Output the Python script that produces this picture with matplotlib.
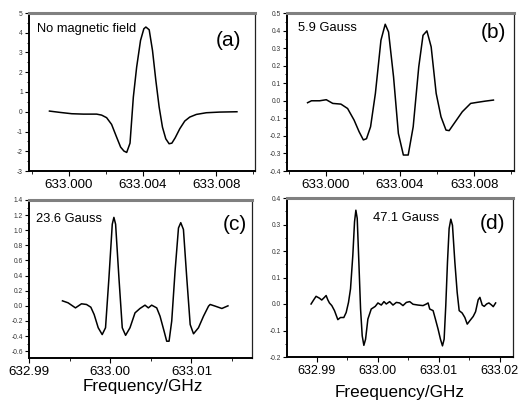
import matplotlib
matplotlib.use("Agg")
import matplotlib.pyplot as plt
from matplotlib.ticker import MultipleLocator, FormatStrFormatter

plt.rcParams['font.family'] = ['Liberation Sans', 'DejaVu Sans']
plt.rcParams['axes.unicode_minus'] = False

# ---------------- data ----------------
freq_a = [632.99895, 632.99953, 633.00016, 633.00079, 633.00151, 633.00178, 633.00205,
          633.00232, 633.00259, 633.00281, 633.00299, 633.00314, 633.00332, 633.00350,
          633.00368, 633.00389, 633.00407, 633.00418, 633.00436, 633.00454, 633.00472,
          633.00490, 633.00508, 633.00526, 633.00544, 633.00559, 633.00577, 633.00602,
          633.00629, 633.00656, 633.00692, 633.00746, 633.00818, 633.00912]
sig_a = [0.034, -0.034, -0.10, -0.12, -0.12, -0.17, -0.30,
         -0.64, -1.28, -1.79, -1.99, -2.06, -1.59, 0.74,
         2.26, 3.61, 4.20, 4.29, 4.15, 3.10, 1.59,
         0.24, -0.78, -1.37, -1.62, -1.59, -1.32, -0.86,
         -0.47, -0.27, -0.135, -0.05, -0.017, 0.0]

freq_b = [632.99901, 632.99922, 632.99966, 633.00002, 633.00037, 633.00081, 633.00117,
          633.00152, 633.00179, 633.00202, 633.00219, 633.00241, 633.00267, 633.00297,
          633.00320, 633.00338, 633.00365, 633.00391, 633.00418, 633.00444, 633.00471,
          633.00501, 633.00524, 633.00545, 633.00568, 633.00595, 633.00621, 633.00648,
          633.00665, 633.00692, 633.00736, 633.00781, 633.00816, 633.00860, 633.00904]
sig_b = [-0.011, 0.0, 0.0, 0.006, -0.015, -0.019, -0.044,
         -0.11, -0.176, -0.223, -0.216, -0.148, 0.042, 0.345,
         0.436, 0.392, 0.136, -0.186, -0.309, -0.309, -0.148,
         0.193, 0.373, 0.398, 0.307, 0.042, -0.091, -0.167,
         -0.17, -0.129, -0.0625, -0.015, -0.009, -0.002, 0.004]

freq_c = [632.99412, 632.99481, 632.99572, 632.99646, 632.99708, 632.99761, 632.99802,
          632.99852, 632.99901, 632.99942, 632.99984, 633.00025, 633.00045, 633.00066,
          633.00107, 633.00148, 633.00189, 633.00243, 633.00305, 633.00366, 633.00428,
          633.00469, 633.00510, 633.00572, 633.00613, 633.00663, 633.00695, 633.00724,
          633.00757, 633.00798, 633.00840, 633.00868, 633.00901, 633.00942, 633.00984,
          633.01025, 633.01086, 633.01148, 633.01210, 633.01230, 633.01292, 633.01374,
          633.01449]
sig_c = [0.066, 0.04, -0.027, 0.027, 0.018, -0.018, -0.115,
         -0.29, -0.38, -0.29, 0.37, 1.08, 1.17, 1.08,
         0.37, -0.29, -0.39, -0.29, -0.093, -0.035, 0.009,
         -0.027, 0.009, -0.027, -0.137, -0.336, -0.468, -0.468,
         -0.2, 0.46, 1.03, 1.10, 1.01, 0.37, -0.247,
         -0.37, -0.29, -0.137, -0.004, 0.018, -0.004, -0.035,
         0.0]

freq_d = [632.98907, 632.98951, 632.98989, 632.99044, 632.99082, 632.99126, 632.99154,
          632.99181, 632.99208, 632.99247, 632.99291, 632.99346, 632.99389, 632.99444,
          632.99483, 632.99521, 632.99554, 632.99592, 632.99620, 632.99642, 632.99664,
          632.99691, 632.99719, 632.99746, 632.99773, 632.99801, 632.99839, 632.99894,
          632.99960, 633.00004, 633.00059, 633.00103, 633.00141, 633.00196, 633.00251,
          633.00306, 633.00360, 633.00415, 633.00470, 633.00525, 633.00580, 633.00662,
          633.00744, 633.00799, 633.00827, 633.00854, 633.00909, 633.00947, 633.00991,
          633.01030, 633.01063, 633.01090, 633.01117, 633.01145, 633.01172, 633.01200,
          633.01227, 633.01266, 633.01304, 633.01337, 633.01386, 633.01430, 633.01469,
          633.01512, 633.01567, 633.01606, 633.01649, 633.01677, 633.01715, 633.01748,
          633.01787, 633.01825, 633.01869, 633.01896, 633.01935]
sig_d = [0.0, 0.016, 0.029, 0.022, 0.015, 0.025, 0.032,
         0.016, 0.004, -0.006, -0.025, -0.059, -0.051, -0.051,
         -0.032, 0.006, 0.057, 0.184, 0.31, 0.354, 0.323,
         0.158, -0.019, -0.12, -0.156, -0.133, -0.057, -0.019,
         -0.009, 0.004, -0.004, 0.009, 0.0, 0.009, -0.004,
         0.006, 0.004, -0.006, 0.006, 0.009, -0.001, -0.004,
         -0.006, 0.0, 0.004, -0.019, -0.025, -0.057, -0.095,
         -0.133, -0.158, -0.133, -0.006, 0.158, 0.285, 0.32,
         0.297, 0.158, 0.044, -0.025, -0.034, -0.051, -0.076,
         -0.063, -0.047, -0.029, 0.016, 0.025, -0.004, -0.009,
         0.0, 0.004, -0.004, -0.01, 0.004]

labels = ["No magnetic field", "5.9 Gauss", "23.6 Gauss", "47.1 Gauss"]
letters = ["(a)", "(b)", "(c)", "(d)"]
xlabels = [None, None, "Frequency/GHz", "Freequency/GHz"]

# ---------------- figure ----------------
fig = plt.figure(figsize=(5.18, 4.05), dpi=100)

rects = [
    (29/518, 1 - 171/405, 226/518, 158/405),
    (287/518, 1 - 171/405, 227/518, 158/405),
    (29/518, 1 - 358/405, 223/518, 158/405),
    (287/518, 1 - 357/405, 226/518, 159/405),
]
xlims = [(632.99784, 633.01010), (632.99790, 633.01015),
         (632.99000, 633.01745), (632.98512, 633.02220)]
ylims = [(-3, 5), (-0.4, 0.5), (-0.69, 1.4), (-0.2, 0.4)]
xmaj = [0.004, 0.004, 0.01, 0.01]
xfmt = ['%.3f', '%.3f', '%.2f', '%.2f']
xlabsize = [9.6, 9.6, 9.6, 9.0]
ymaj = [1, 0.1, 0.2, 0.1]
yfmt = ['%d', '%.1f', '%.1f', '%.1f']
label_pos = [(8/226, 1 - 16/158), (11/227, 1 - 15/158),
             (7/223, 1 - 19/158), (86/226, 1 - 20/159)]
letter_pos = [(1 - 14/226, 1 - 27/158), (1 - 8/227, 1 - 20/158),
              (1 - 5/223, 1 - 25/158), (1 - 8/226, 1 - 25/159)]

datasets = [(freq_a, sig_a), (freq_b, sig_b), (freq_c, sig_c), (freq_d, sig_d)]

for i in range(4):
    ax = fig.add_axes(rects[i])
    fx, fy = datasets[i]
    ax.plot(fx, fy, color='black', lw=1.1)
    ax.set_xlim(*xlims[i])
    ax.set_ylim(*ylims[i])
    ax.xaxis.set_major_locator(MultipleLocator(xmaj[i]))
    ax.xaxis.set_minor_locator(MultipleLocator(xmaj[i] / 2))
    ax.xaxis.set_major_formatter(FormatStrFormatter(xfmt[i]))
    ax.yaxis.set_major_locator(MultipleLocator(ymaj[i]))
    ax.yaxis.set_minor_locator(MultipleLocator(ymaj[i] / 2))
    ax.yaxis.set_major_formatter(FormatStrFormatter(yfmt[i]))
    ax.tick_params(axis='x', which='major', direction='out', length=3.5, width=0.8,
                   labelsize=xlabsize[i], pad=2, top=False)
    ax.tick_params(axis='x', which='minor', direction='out', length=2, width=0.6, top=False)
    ax.tick_params(axis='y', which='major', direction='out', length=3, width=0.8,
                   labelsize=4.8, pad=1.5, right=False, labelcolor='#333333')
    ax.tick_params(axis='y', which='minor', direction='out', length=1.8, width=0.6, right=False)
    ax.spines['left'].set_linewidth(1.4)
    ax.spines['bottom'].set_linewidth(1.4)
    ax.spines['top'].set_linewidth(2.2)
    ax.spines['top'].set_color('#808080')
    ax.spines['right'].set_linewidth(0.9)
    ax.spines['right'].set_color('#222222')
    ax.text(label_pos[i][0], label_pos[i][1], labels[i], transform=ax.transAxes,
            ha='left', va='center', fontsize=9.3)
    ax.text(letter_pos[i][0], letter_pos[i][1], letters[i], transform=ax.transAxes,
            ha='right', va='center', fontsize=15)

fig.text(143/518, 1 - 387/405, xlabels[2], ha='center', va='center', fontsize=12.3)
fig.text(400/518, 1 - 392/405, xlabels[3], ha='center', va='center', fontsize=12.3)

fig.savefig("out.png", dpi=100)
